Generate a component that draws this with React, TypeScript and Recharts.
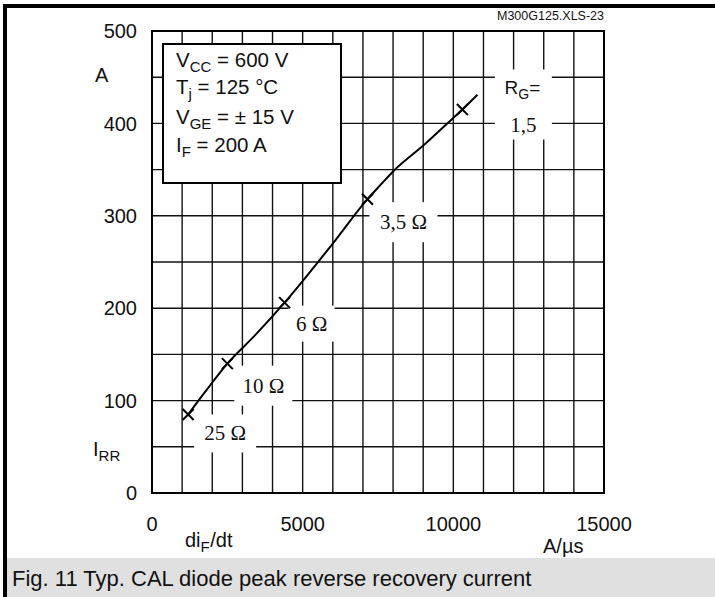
import { ComposedChart, Line, Scatter, XAxis, YAxis, CartesianGrid, ReferenceArea } from 'recharts';

const SANS = '"Liberation Sans", Arial, sans-serif';
const SERIF = '"Liberation Serif", "Times New Roman", serif';

// I_RR (A) against di_F/dt (A/µs) along the drawn curve
const curveDidt = [1200, 1800, 2500, 3400, 4400, 6000, 7150, 7600, 8000, 9000, 9700, 10300, 10800];
const curveIrr = [85, 111, 140, 170, 206, 270, 318, 334, 348, 376, 397, 415, 431];

// gate resistor points, marked with a cross
const gateDidt = [1200, 2500, 4400, 7150, 10300];
const gateIrr = [85, 140, 206, 318, 415];
const gateNames = ['25 Ω', '10 Ω', '6 Ω', '3,5 Ω', '1,5'];

const xGrid = [0, 1000, 2000, 3000, 4000, 5000, 6000, 7000, 8000, 9000, 10000, 11000, 12000, 13000, 14000, 15000];
const xTickLabels = [0, 5000, 10000, 15000];
const yGrid = [0, 50, 100, 150, 200, 250, 300, 350, 400, 450, 500];
const yTickLabels = [0, 100, 200, 300, 400, 500];

// label box placement relative to its cross: dx, dy, width, height
const gateBoxes = [
	[37, 19, 62, 38],
	[36, 22, 58, 40],
	[27, 21, 46, 36],
	[36, 23, 68, 40],
	[61, -5, 57, 70],
];

const curveData = curveDidt.map((x, i) => ({ x, y: curveIrr[i] }));
const gateData = gateDidt.map((x, i) => ({ x, y: gateIrr[i], name: gateNames[i] }));

const Cross = (props: any) => {
	const { cx, cy } = props;
	const r = 5.5;
	return (
		<g stroke='#000' strokeWidth={2}>
			<line x1={cx - r} y1={cy - r} x2={cx + r} y2={cy + r} />
			<line x1={cx - r} y1={cy + r} x2={cx + r} y2={cy - r} />
		</g>
	);
};

const GateLabel = (props: any) => {
	const { cx, cy, payload } = props;
	const i = gateNames.indexOf(payload.name);
	const [dx, dy, w, h] = gateBoxes[i];
	const x = cx + dx;
	const y = cy + dy;
	return (
		<g>
			<rect x={x - w / 2} y={y - h / 2} width={w} height={h} fill='#fff' />
			{payload.name === '1,5' ? (
				<>
					<text x={x - 1} y={y - 11} textAnchor='middle' fontFamily={SANS} fontSize={19} fill='#111'>
						R<tspan fontSize={14} dy={5}>G</tspan>
						<tspan dy={-5}>=</tspan>
					</text>
					<text x={x} y={y + 27} textAnchor='middle' fontFamily={SERIF} fontSize={21} fill='#111'>
						{payload.name}
					</text>
				</>
			) : (
				<text x={x} y={y} textAnchor='middle' dominantBaseline='central' fontFamily={SERIF} fontSize={21} fill='#111'>
					{payload.name}
				</text>
			)}
		</g>
	);
};

const Sub = ({ children }: { children: string }) => (
	<>
		<tspan fontSize={15} dy={5}>{children}</tspan>
		<tspan dy={-5}> </tspan>
	</>
);

const App = () => {
	return (
		<div style={{ position: 'absolute', left: 0, top: 0, width: 715, height: 597, background: '#fff' }}>
			<ComposedChart width={715} height={558} margin={{ top: 31, right: 111, bottom: 0, left: 0 }}>
				<CartesianGrid stroke='#111' strokeWidth={1.4} />
				<XAxis
					type='number'
					dataKey='x'
					domain={[0, 15000]}
					ticks={xGrid}
					interval={0}
					tickFormatter={(v: number) => (xTickLabels.includes(v) ? String(v) : '')}
					axisLine={false}
					tickLine={false}
					tickSize={0}
					tickMargin={24}
					height={65}
					tick={{ fill: '#111', fontSize: 20, fontFamily: SANS }}
				/>
				<YAxis
					type='number'
					dataKey='y'
					domain={[0, 500]}
					ticks={yGrid}
					interval={0}
					tickFormatter={(v: number) => (yTickLabels.includes(v) ? String(v) : '')}
					axisLine={false}
					tickLine={false}
					tickSize={0}
					tickMargin={15}
					width={152}
					tick={{ fill: '#111', fontSize: 20, fontFamily: SANS }}
				/>
				<ReferenceArea x1={0} x2={15000} y1={0} y2={500} fill='none' stroke='#000' strokeWidth={2} />
				<Scatter data={gateData} shape={GateLabel} isAnimationActive={false} />
				<Line
					data={curveData}
					dataKey='y'
					type='monotone'
					stroke='#000'
					strokeWidth={2}
					dot={false}
					isAnimationActive={false}
				/>
				<Scatter data={gateData} shape={Cross} isAnimationActive={false} />
			</ComposedChart>

			<svg
				width={715}
				height={597}
				style={{ position: 'absolute', left: 0, top: 0, pointerEvents: 'none' }}
				fontFamily={SANS}
				fill='#111'
			>
				{/* frame */}
				<rect x={3} y={4} width={712} height={4} fill='#000' />
				<rect x={3} y={4} width={4} height={593} fill='#000' />
				<rect x={7} y={558} width={708} height={39} fill='#e0e0e0' />
				<text x={12} y={586} fontSize={22}>
					Fig. 11 Typ. CAL diode peak reverse recovery current
				</text>

				<text x={604} y={20} fontSize={12.5} textAnchor='end'>
					M300G125.XLS-23
				</text>

				{/* axis names */}
				<text x={95} y={82} fontSize={20}>A</text>
				<text x={93} y={456} fontSize={20}>
					I<Sub>RR</Sub>
				</text>
				<text x={185} y={547} fontSize={20}>
					di<Sub>F</Sub>
					<tspan dx={-5}>/dt</tspan>
				</text>
				<text x={543} y={553} fontSize={20}>A/µs</text>

				{/* test conditions */}
				<rect x={163} y={44} width={178} height={139} fill='#fff' stroke='#000' strokeWidth={2} />
				<g fontSize={20.5}>
					<text x={176} y={67}>
						V<Sub>CC</Sub>= 600 V
					</text>
					<text x={176} y={94}>
						T<Sub>j</Sub>= 125 °C
					</text>
					<text x={176} y={124}>
						V<Sub>GE</Sub>= ± 15 V
					</text>
					<text x={176} y={152}>
						I<Sub>F</Sub>= 200 A
					</text>
				</g>
			</svg>
		</div>
	);
};

export default App;
